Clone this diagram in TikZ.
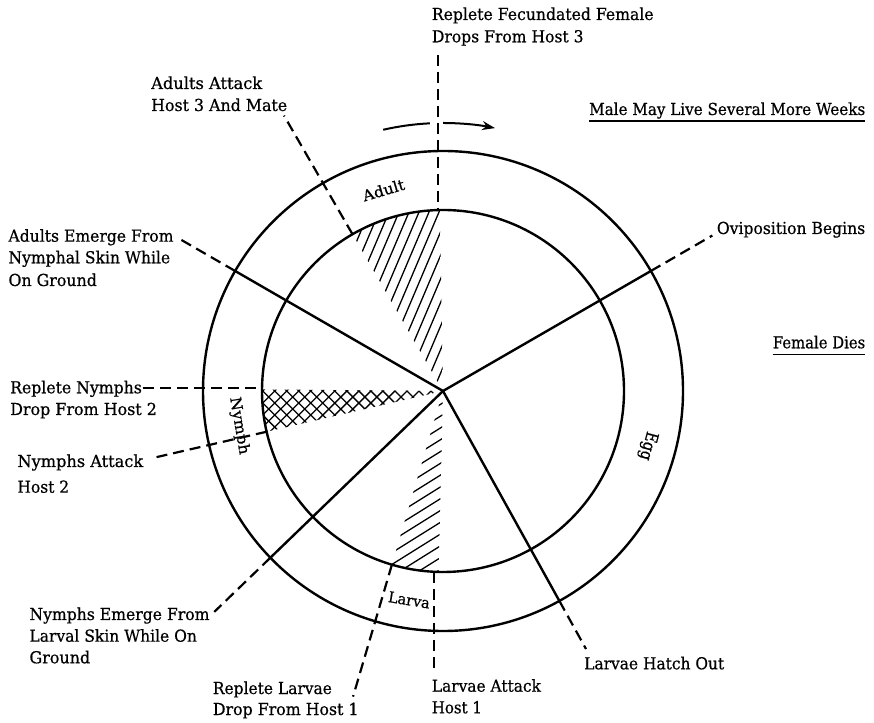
\documentclass[tikz,border=0pt]{standalone}
\usepackage{fontspec}
\setmainfont{DejaVu Serif}[BoldFont={DejaVu Serif}, BoldFeatures={FakeBold=0.6}]
\usepackage{graphicx}
\usetikzlibrary{calc,arrows.meta}
\newcommand{\fw}[2]{\resizebox{#1pt}{\height}{#2}}
\begin{document}
\begin{tikzpicture}[x=1pt,y=1pt,
  lbl/.style={inner sep=0pt, anchor=base west, font=\fontsize{16.5}{19}\selectfont\bfseries},
  ringlbl/.style={inner sep=0pt, font=\fontsize{15}{17}\selectfont\bfseries},
  bnd/.style={line width=2.4pt},
  dsh/.style={line width=2.2pt, dash pattern=on 11pt off 6pt},
  hatch/.style={line width=1.3pt},
  uline/.style={line width=1.4pt}]
\fill[white] (0,0) rectangle (874,722);
\useasboundingbox (0,0) rectangle (874,722);
\coordinate (C) at (443,331);

% hatched wedges
\begin{scope}
  \clip (C) -- ($(C)+(91:181)$) arc[start angle=91, end angle=120, radius=181] -- cycle;
  \begin{scope}[shift={(C)}, rotate=67]
    \foreach \k in {-30,...,30} \draw[hatch] (-300,\k*9.2) -- (300,\k*9.2);
  \end{scope}
\end{scope}
\begin{scope}
  \clip (C) -- ($(C)+(179.5:181)$) arc[start angle=179.5, end angle=193, radius=181] -- cycle;
  \begin{scope}[shift={(C)}, rotate=45]
    \foreach \k in {-30,...,30} \draw[hatch] (-300,\k*8.5) -- (300,\k*8.5);
  \end{scope}
  \begin{scope}[shift={(C)}, rotate=-45]
    \foreach \k in {-30,...,30} \draw[hatch] (-300,\k*8.5) -- (300,\k*8.5);
  \end{scope}
\end{scope}
\begin{scope}
  \clip (C) -- ($(C)+(253.6:181)$) arc[start angle=253.6, end angle=268.6, radius=181] -- cycle;
  \begin{scope}[shift={(C)}, rotate=32]
    \foreach \k in {-30,...,30} \draw[hatch] (-300,\k*10) -- (300,\k*10);
  \end{scope}
\end{scope}

% circles
\draw[bnd] (C) circle[radius=240];
\draw[bnd] (C) circle[radius=181];

% stage boundaries (solid) and their dashed extensions
\foreach \a/\r/\n in {150/307/A, 30/311/B, -61/295/D, -136/318/E} {
  \coordinate (o\n) at ($(C)+(\a:240)$);
  \coordinate (e\n) at ($(C)+(\a:\r)$);
  \draw[bnd] (C) -- (o\n);
  \draw[dsh] (o\n) -- (e\n);
}

% event lines from inner circle
\foreach \a/\r/\n in {120/318/P, 193/299/Q, 253.6/318.6/S} {
  \coordinate (i\n) at ($(C)+(\a:181)$);
  \coordinate (f\n) at ($(C)+(\a:\r)$);
  \draw[dsh] (i\n) -- (f\n);
}
\coordinate (vt) at (438,667);
\coordinate (vb) at (438,511.9);
\draw[dsh] (vt) -- (vb);
\coordinate (wt) at (434,150.2);
\coordinate (wb) at (434,52);
\draw[dsh] (wt) -- (wb);
\coordinate (ht) at (143,334);
\coordinate (hb) at (262,334);
\draw[dsh] (ht) -- (hb);

% direction arrow
\coordinate (a1) at ($(C)+(102.9:268)$);
\coordinate (a2) at ($(C)+(90:268)$);
\draw[line width=2pt] (a1) arc[start angle=102.9, end angle=92.8, radius=268];
\draw[line width=2pt, -{Stealth[length=13pt,width=9pt]}] (a2) arc[start angle=90, end angle=78.8, radius=268];

% ring labels
\node[ringlbl, rotate=16.5] (adult) at ($(C)+(106.5:209.6)$) {\fw{43}{Adult}};
\node[ringlbl, rotate=-80.3] (nymph) at ($(C)+(189.7:207)$) {\fw{58}{Nymph}};
\node[ringlbl, rotate=-105, font=\fontsize{17}{19}\selectfont\bfseries] (egg) at ($(C)+(-15:212)$) {\fw{29}{Egg}};
\node[ringlbl, rotate=-9.2] (larva) at ($(C)+(260.8:211.7)$) {\fw{42}{Larva}};

% event labels
\node[lbl] (rff1) at (431.7,702) {\fw{221.7}{Replete Fecundated Female}};
\node[lbl] (rff2) at (431.7,679.7) {\fw{151.7}{Drops From Host 3}};
\node[lbl] (aa1) at (151,633) {\fw{111}{Adults Attack}};
\node[lbl] (aa2) at (151,611) {\fw{136}{Host 3 And Mate}};
\node[lbl] (male) at (589,607) {\fw{276}{Male May Live Several More Weeks}};
\node[lbl] (ovi) at (716.7,488) {\fw{148.3}{Oviposition Begins}};
\node[lbl] (fem) at (772.7,373.7) {\fw{92.3}{Female Dies}};
\node[lbl] (ae1) at (8.3,480.3) {\fw{165}{Adults Emerge From}};
\node[lbl] (ae2) at (8.3,458.7) {\fw{161.7}{Nymphal Skin While}};
\node[lbl] (ae3) at (8.3,436) {\fw{88.4}{On Ground}};
\node[lbl] (rn1) at (10,328.7) {\fw{131.7}{Replete Nymphs}};
\node[lbl] (rn2) at (10,307) {\fw{146.7}{Drop From Host 2}};
\node[lbl] (na1) at (17.3,255) {\fw{125.7}{Nymphs Attack}};
\node[lbl] (na2) at (17.3,229.3) {\fw{51.7}{Host 2}};
\node[lbl] (ne1) at (29.3,102) {\fw{180}{Nymphs Emerge From}};
\node[lbl] (ne2) at (29.3,80.3) {\fw{167.4}{Larval Skin While On}};
\node[lbl] (ne3) at (29.3,58.7) {\fw{60.7}{Ground}};
\node[lbl] (rl1) at (212.7,28) {\fw{119}{Replete Larvae}};
\node[lbl] (rl2) at (212.7,7) {\fw{145.6}{Drop From Host 1}};
\node[lbl] (la1) at (431.7,30.3) {\fw{109}{Larvae Attack}};
\node[lbl] (la2) at (431.7,8.7) {\fw{50}{Host 1}};
\node[lbl] (lh) at (584,52.7) {\fw{140}{Larvae Hatch Out}};

% underlines
\draw[uline] ([yshift=-6pt]male.base west) -- ([yshift=-6pt]male.base east);
\draw[uline] ([yshift=-6.5pt]fem.base west) -- ([yshift=-6.5pt]fem.base east);
\end{tikzpicture}
\end{document}
